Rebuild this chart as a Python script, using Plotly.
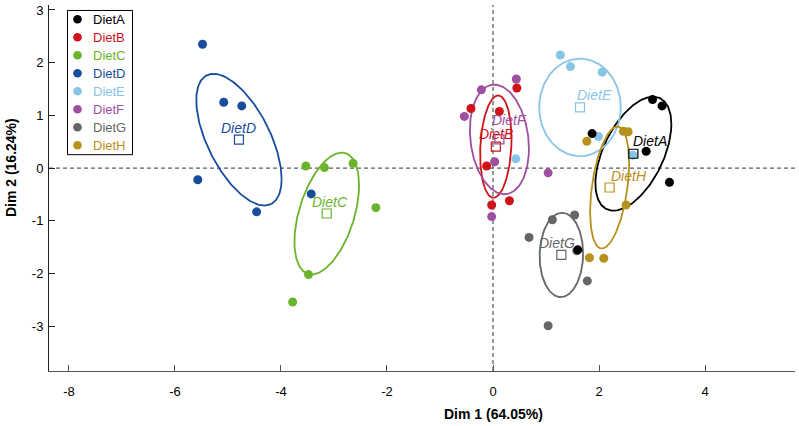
import numpy as np
import plotly.graph_objects as go

# ---------------- data ----------------
groups = ["DietA", "DietB", "DietC", "DietD", "DietE", "DietF", "DietG", "DietH"]

dietA_x = [3.01, 3.19, 1.87, 2.89, 3.33, 1.60]
dietA_y = [1.30, 1.18, 0.655, 0.32, -0.27, -1.55]
dietB_x = [0.45, -0.415, 0.12, -0.12, 0.31, -0.025]
dietB_y = [1.52, 1.13, 1.075, 0.04, -0.62, -0.70]
dietC_x = [-3.53, -3.18, -2.64, -2.21, -3.48, -3.78]
dietC_y = [0.04, 0.01, 0.09, -0.75, -2.02, -2.54]
dietD_x = [-5.48, -5.08, -4.74, -5.57, -4.46, -3.43]
dietD_y = [2.35, 1.25, 1.18, -0.22, -0.83, -0.49]
dietE_x = [1.27, 1.46, 2.06, 1.99, 0.43, 2.64]
dietE_y = [2.145, 1.925, 1.82, 0.60, 0.175, 0.245]
dietF_x = [0.44, -0.22, -0.54, 0.03, 1.04, -0.025]
dietF_y = [1.69, 1.485, 0.98, 0.12, -0.09, -0.92]
dietG_x = [1.12, 1.54, 0.68, 1.78, 1.04, 1.58]
dietG_y = [-0.98, -0.89, -1.315, -2.14, -2.99, -1.57]
dietH_x = [2.46, 2.55, 1.77, 2.51, 1.82, 2.09]
dietH_y = [0.70, 0.69, 0.51, -0.70, -1.70, -1.71]

# confidence ellipse parameters (half extent in x, half extent in y, correlation)
ellipse_dx = [0.717, 0.296, 0.61, 0.805, 0.77, 0.557, 0.41, 0.368]
ellipse_dy = [1.08, 0.97, 1.155, 1.25, 0.925, 1.04, 0.80, 1.157]
ellipse_r = [0.52, 0.15, 0.464, -0.596, 0.0, -0.17, 0.03, 0.40]

x_ticks = [-8, -6, -4, -2, 0, 2, 4]
y_ticks = [-3, -2, -1, 0, 1, 2, 3]
x_title = "Dim 1 (64.05%)"
y_title = "Dim 2 (16.24%)"

# ---------------- style ----------------
colors = ["#000000", "#d0121b", "#6ab42b", "#184c9c",
          "#87c5e6", "#9e4f9f", "#666666", "#b8901e"]
label_shift = [(17, 13), (0, 13), (3, 12), (0, 12), (14, 12), (10, 19), (-4, 12), (19, 12)]
FONT = "Liberation Sans, Arial, sans-serif"
W, H = 799, 426
ML, MR, MT, MB = 49, 4, 3, 55
X_RANGE = [-8.377, 5.698]
Y_RANGE = [-3.849, 3.094]

xs = [dietA_x, dietB_x, dietC_x, dietD_x, dietE_x, dietF_x, dietG_x, dietH_x]
ys = [dietA_y, dietB_y, dietC_y, dietD_y, dietE_y, dietF_y, dietG_y, dietH_y]


def px_to_paper_x(px):
    return (px - ML) / (W - ML - MR)


def px_to_paper_y(py):
    return (H - MB - py) / (H - MT - MB)


fig = go.Figure()

# ellipses
t = np.linspace(0, 2 * np.pi, 200)
cents = []
for i, g in enumerate(groups):
    cx, cy = float(np.mean(xs[i])), float(np.mean(ys[i]))
    cents.append((cx, cy))
    r = ellipse_r[i]
    ex = cx + ellipse_dx[i] * np.cos(t)
    ey = cy + ellipse_dy[i] * (r * np.cos(t) + np.sqrt(1 - r * r) * np.sin(t))
    fig.add_trace(go.Scatter(x=ex, y=ey, mode="lines",
                             line=dict(color=colors[i], width=1.8),
                             showlegend=False, hoverinfo="skip"))

# individual points (drawn H..A so A ends on top)
for i in reversed(range(len(groups))):
    fig.add_trace(go.Scatter(x=xs[i], y=ys[i], mode="markers", name=groups[i],
                             marker=dict(color=colors[i], size=9, line=dict(width=0)),
                             showlegend=False))

# centroids
for i, g in enumerate(groups):
    cx, cy = cents[i]
    fig.add_trace(go.Scatter(x=[cx], y=[cy], mode="markers",
                             marker=dict(symbol="square-open", size=9, color=colors[i],
                                         line=dict(width=1.2, color=colors[i])),
                             showlegend=False, hoverinfo="skip"))
    fig.add_annotation(x=cx, y=cy, text="<i>" + g + "</i>", showarrow=False,
                       xshift=label_shift[i][0], yshift=label_shift[i][1],
                       font=dict(family=FONT, size=14, color=colors[i]),
                       xanchor="center", yanchor="middle")

# dashed zero lines
fig.add_hline(y=0, line=dict(color="#333333", width=1, dash="4px,3px"), layer="below")
fig.add_vline(x=0, line=dict(color="#333333", width=1, dash="4px,3px"), layer="below")

# legend (manual)
LX0, LX1, LY0, LY1 = 67.5, 132.5, 8.5, 153.5
fig.add_shape(type="rect", xref="paper", yref="paper",
              x0=px_to_paper_x(LX0), x1=px_to_paper_x(LX1),
              y0=px_to_paper_y(LY1), y1=px_to_paper_y(LY0),
              line=dict(color="#000000", width=1), fillcolor="white", layer="above")
for i, g in enumerate(groups):
    ry = 17.3 + 18.1 * i
    fig.add_shape(type="circle", xref="paper", yref="paper",
                  xsizemode="pixel", ysizemode="pixel",
                  xanchor=px_to_paper_x(77.5), yanchor=px_to_paper_y(ry),
                  x0=-4.3, x1=4.3, y0=-4.3, y1=4.3,
                  line=dict(width=0), fillcolor=colors[i], layer="above")
    fig.add_annotation(xref="paper", yref="paper", x=px_to_paper_x(91),
                       y=px_to_paper_y(ry), text=g, showarrow=False,
                       xanchor="left", yanchor="middle",
                       font=dict(family=FONT, size=13, color=colors[i]))

# axis titles
fig.add_annotation(x=0, y=px_to_paper_y(414), xref="x", yref="paper", text="<b>" + x_title + "</b>",
                   showarrow=False, xanchor="center", yanchor="middle",
                   font=dict(family=FONT, size=14, color="#000000"))
fig.add_annotation(x=px_to_paper_x(11), y=0, xref="paper", yref="y", text="<b>" + y_title + "</b>",
                   showarrow=False, xanchor="center", yanchor="middle", textangle=-90,
                   font=dict(family=FONT, size=14, color="#000000"))

fig.update_layout(
    width=W, height=H,
    margin=dict(l=ML, r=MR, t=MT, b=MB),
    paper_bgcolor="white", plot_bgcolor="white",
    font=dict(family=FONT, size=13, color="#000000"),
    showlegend=False,
    xaxis=dict(range=X_RANGE, tickvals=x_ticks, ticktext=[str(v) for v in x_ticks],
               showgrid=False, zeroline=False, showline=True, linecolor="#555555",
               linewidth=1, ticks="inside", ticklen=6, tickcolor="#555555",
               tickfont=dict(family=FONT, size=13, color="#000000"),
               ticklabelstandoff=8),
    yaxis=dict(range=Y_RANGE, tickvals=y_ticks, ticktext=[str(v) for v in y_ticks],
               showgrid=False, zeroline=False, showline=True, linecolor="#222222",
               linewidth=1, ticks="inside", ticklen=6, tickcolor="#222222",
               tickfont=dict(family=FONT, size=13, color="#000000"),
               ticklabelstandoff=2),
)

fig.write_html("out.html", config={"displayModeBar": False},
               post_script="document.body.style.margin='0';")
